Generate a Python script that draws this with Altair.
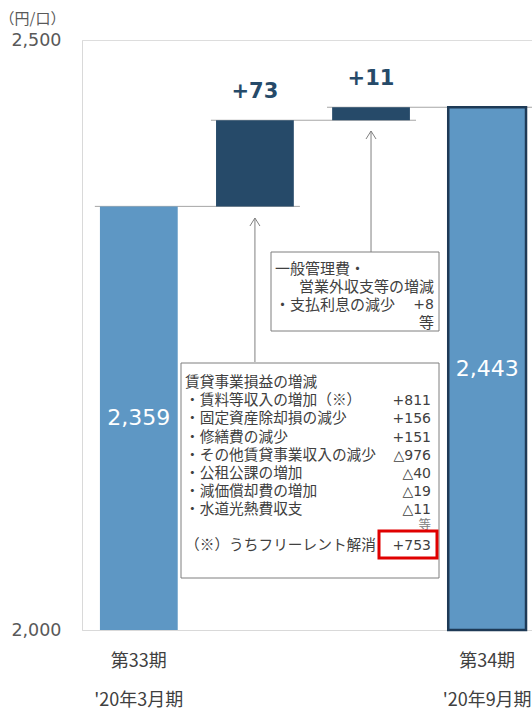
import json
import altair as alt
import pandas as pd

# ---------------- data ----------------
categories = ["A", "B", "C", "D"]
period_labels = {"A": ["第33期", "'20年3月期"], "D": ["第34期", "'20年9月期"]}
start_value = 2359
deltas = [73, 11]
end_value = 2443
delta_labels = ["+73", "+11"]
value_labels = ["2,359", "2,443"]

box1_left = ["一般管理費・", "", "・支払利息の減少", ""]
box1_right = ["", "営業外収支等の増減", "+8", "等"]

box2_left = ["賃貸事業損益の増減", "・賃料等収入の増加（※）", "・固定資産除却損の減少", "・修繕費の減少",
             "・その他賃貸事業収入の減少", "・公租公課の増加", "・減価償却費の増加", "・水道光熱費収支"]
box2_right = ["", "+811", "+156", "+151", "△976", "△40", "△19", "△11"]
box2_etc = "等"
note_left = "（※）うちフリーレント解消"
note_right = "+753"

# ---------------- tables ----------------
BASE = 2000
rows = []
rows.append(dict(cat=categories[0], y0=BASE, y1=start_value, kind="total", label=value_labels[0]))
level = start_value
for c, d, lab in zip(categories[1:3], deltas, delta_labels):
    rows.append(dict(cat=c, y0=level, y1=level + d, kind="delta", label=lab))
    level += d
rows.append(dict(cat=categories[3], y0=BASE, y1=end_value, kind="end", label=value_labels[1]))
bars = pd.DataFrame(rows)
bars["mid"] = (bars["y0"] + bars["y1"]) / 2

conn = pd.DataFrame([
    dict(cat=categories[i], cat2=categories[i + 1], lvl=bars.loc[i, "y1"]) for i in range(3)
])

JP = "Noto Sans CJK JP"
LAT = "DejaVu Sans"
LIGHT = "#5E97C4"
DARK = "#264A69"
EDGE = "#1E3A56"
TXT = "#404040"

lab_expr = "datum.value == 'A' ? %s : datum.value == 'D' ? %s : ''" % (
    json.dumps(period_labels["A"], ensure_ascii=False),
    json.dumps(period_labels["D"], ensure_ascii=False),
)

xscale = alt.Scale(domain=categories, paddingInner=0.33, paddingOuter=0.103, align=0.75)
yscale = alt.Scale(domain=[2000, 2500], nice=False, zero=False)

X = alt.X("cat:N", scale=xscale, sort=categories,
          axis=alt.Axis(title=None, labelExpr=lab_expr, labelAngle=0, labelAlign="center",
                        ticks=False, domainColor="#D9D9D9", labelPadding=22, labelFontSize=18,
                        labelLineHeight=39, labelFont=JP, labelColor=TXT, labelBaseline="top"))
Y = alt.Y("y1:Q", scale=yscale,
          axis=alt.Axis(values=[2000, 2500], format=",.0f", ticks=False, grid=False,
                        domainColor="#D9D9D9", labelFontSize=17.5, labelFont=LAT,
                        labelColor="#595959", labelPadding=21,
                        title="（円/口）", titleAngle=0, titleAlign="center",
                        titleBaseline="middle", titleX=-50, titleY=-22, titleFontSize=15,
                        titleFont=JP, titleFontWeight="normal", titleColor="#595959"))

base = alt.Chart(bars)

bar_layer = base.mark_bar(stroke=EDGE).encode(
    x=X, y=Y, y2="y0:Q",
    color=alt.Color("kind:N", scale=alt.Scale(domain=["total", "delta", "end"],
                                              range=[LIGHT, DARK, LIGHT]), legend=None),
    strokeWidth=alt.condition("datum.kind == 'end'", alt.value(2.5), alt.value(0)),
)

conn_layer = alt.Chart(conn).mark_rule(color="#A6A6A6", strokeWidth=1, xOffset=-44, x2Offset=45).encode(
    x=alt.X("cat:N", scale=xscale, sort=categories),
    x2="cat2:N",
    y=alt.Y("lvl:Q", scale=yscale),
)

delta_text = base.transform_filter("datum.kind == 'delta'").mark_text(
    font=LAT, fontWeight="bold", fontSize=21, color=DARK, dy=-28
).encode(x=alt.X("cat:N", scale=xscale, sort=categories), y=alt.Y("y1:Q", scale=yscale), text="label:N")

value_text = base.transform_filter("datum.kind != 'delta'").mark_text(
    font=LAT, fontSize=22, color="white"
).encode(x=alt.X("cat:N", scale=xscale, sort=categories), y=alt.Y("mid:Q", scale=yscale), text="label:N")

one = pd.DataFrame({"cat": ["B"]})
one_c = pd.DataFrame({"cat": ["C"]})
stub = pd.DataFrame({"k": [0]})


def box(x0, x1, y0, y1, stroke="#7F7F7F", sw=1, fill="white"):
    return alt.Chart(stub).mark_rect(
        fill=fill, stroke=stroke, strokeWidth=sw
    ).encode(x=alt.value(x0), x2=alt.value(x1), y=alt.value(y0), y2=alt.value(y1))


def text_lines(lines, x, y, align, size, lh, font=JP, color=TXT):
    out = []
    for i, s in enumerate(lines):
        if not s:
            continue
        out.append(alt.Chart(stub).mark_text(
            text=s, align=align, baseline="middle", font=font, fontSize=size, color=color
        ).encode(x=alt.value(x), y=alt.value(y + i * lh)))
    return out


L, T = 82, 40
arrow1 = alt.Chart(one_c).mark_rule(color="#808080", strokeWidth=1).encode(
    x=alt.X("cat:N", scale=xscale, sort=categories), y=alt.value(252 - T), y2=alt.value(131 - T))
arrow2 = alt.Chart(one).mark_rule(color="#808080", strokeWidth=1).encode(
    x=alt.X("cat:N", scale=xscale, sort=categories), y=alt.value(362 - T), y2=alt.value(218 - T))
head_shape = "M-1,1.6L0,0L1,1.6"
head1 = alt.Chart(one_c).mark_point(shape=head_shape, filled=False, size=100, color="#808080",
                                    strokeWidth=1, opacity=1).encode(
    x=alt.X("cat:N", scale=xscale, sort=categories), y=alt.value(131 - T))
head2 = alt.Chart(one).mark_point(shape=head_shape, filled=False, size=100, color="#808080",
                                  strokeWidth=1, opacity=1).encode(
    x=alt.X("cat:N", scale=xscale, sort=categories), y=alt.value(218 - T))

layers = [conn_layer, bar_layer, delta_text, value_text, arrow1, arrow2, head1, head2]

layers.append(box(271 - L, 439 - L, 252 - T, 331 - T))
layers += text_lines(box1_left, 275 - L, 269 - T, "left", 15, 18)
layers += text_lines(box1_right[:2], 434 - L, 269 - T, "right", 15, 18)
layers += text_lines([box1_right[2]], 434 - L, 269 - T + 36, "right", 14, 18, font=LAT)
layers += text_lines([box1_right[3]], 434 - L, 269 - T + 54, "right", 15, 18)

layers.append(box(181 - L, 439 - L, 363 - T, 578 - T))
layers += text_lines(box2_left, 185 - L, 383 - T, "left", 14.7, 18.2)
layers += text_lines(box2_right, 431 - L, 383 - T, "right", 14, 18.2, font=LAT)
layers += text_lines([box2_etc], 431 - L, 525 - T, "right", 12.5, 18.2, color="#808080")
layers += text_lines([note_left], 185 - L, 546 - T, "left", 14.7, 18.2)
layers += text_lines([note_right], 431 - L, 546 - T, "right", 14, 18.2, font=LAT)
layers.append(box(379 - L, 437 - L, 531 - T, 558 - T, stroke="#E00000", sw=3, fill="transparent"))

chart = alt.layer(*layers).resolve_scale(x="shared", y="shared").properties(
    width=450, height=590,
    autosize=alt.AutoSizeParams(type="none"),
    padding={"left": L, "top": T, "right": 0, "bottom": 81},
).configure_view(stroke=None).configure(background="white")

chart.save("out.html", embed_options={"renderer": "svg", "actions": False})
